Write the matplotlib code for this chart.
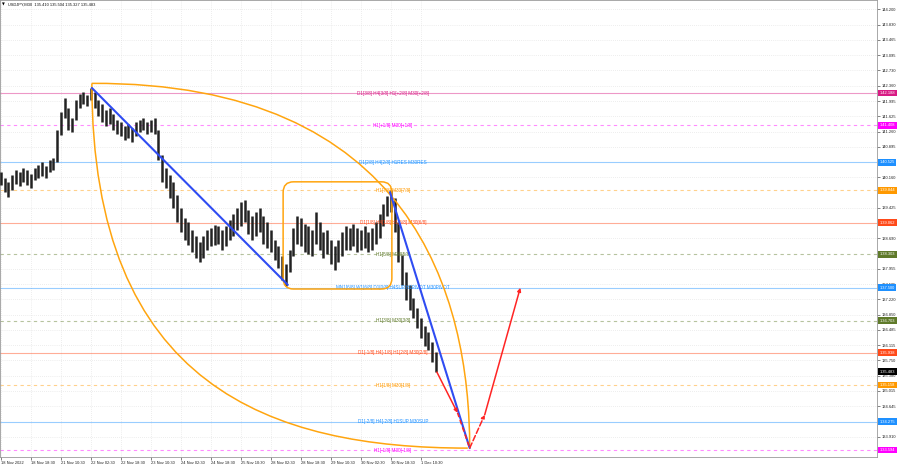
import matplotlib
matplotlib.use("Agg")
import numpy as np
import matplotlib.pyplot as plt
import matplotlib.transforms as mtransforms
from matplotlib.path import Path
from matplotlib.patches import PathPatch, FancyBboxPatch

plt.rcParams['font.family'] = ['Liberation Sans', 'DejaVu Sans']

# USDJPY M30, every entry = 4 bars (high / low)
highs = [140.29, 140.14, 140.05, 140.21, 140.33, 140.29, 140.38, 140.33, 140.24, 140.38,
         140.46, 140.53, 140.43, 140.58, 140.62, 141.30, 141.73, 142.07, 141.83, 141.59,
         142.02, 142.16, 142.21, 142.14, 142.31, 142.21, 142.02, 141.92, 141.78, 141.83,
         141.68, 141.54, 141.49, 141.39, 141.44, 141.35, 141.49, 141.54, 141.59, 141.49,
         141.54, 141.59, 141.30, 140.70, 140.38, 140.21, 140.05, 139.73, 139.42, 139.18,
         139.08, 138.89, 138.75, 138.60, 138.75, 138.89, 138.94, 139.01, 138.99, 138.89,
         138.99, 139.13, 139.28, 139.42, 139.56, 139.61, 139.37, 139.23, 139.32, 139.42,
         139.23, 139.08, 138.89, 138.65, 138.51, 138.26, 138.07, 138.41, 138.94, 139.23,
         139.18, 139.03, 138.99, 138.89, 139.32, 139.08, 138.84, 138.89, 138.65, 138.51,
         138.65, 138.84, 138.99, 138.94, 139.03, 138.94, 138.89, 138.99, 138.84, 138.94,
         139.08, 139.28, 139.52, 139.71, 139.85, 139.66, 139.08, 138.29, 137.88, 137.57,
         137.25, 137.01, 136.77, 136.58, 136.43, 136.19, 135.95]
lows = [139.97, 139.81, 139.68, 139.85, 140.00, 139.95, 140.05, 139.97, 139.90, 140.09,
        140.14, 140.19, 140.14, 140.29, 140.33, 140.53, 141.18, 141.59, 141.30, 141.25,
        141.54, 141.83, 141.92, 141.88, 142.02, 141.83, 141.63, 141.49, 141.39, 141.44,
        141.30, 141.20, 141.15, 141.06, 141.10, 141.01, 141.15, 141.25, 141.30, 141.20,
        141.25, 141.20, 140.58, 140.05, 139.90, 139.66, 139.42, 139.08, 138.84, 138.65,
        138.53, 138.36, 138.22, 138.12, 138.22, 138.41, 138.51, 138.53, 138.55, 138.41,
        138.51, 138.65, 138.75, 138.89, 138.99, 139.08, 138.79, 138.65, 138.75, 138.84,
        138.55, 138.46, 138.36, 138.17, 137.98, 137.69, 137.54, 137.88, 138.26, 138.55,
        138.51, 138.36, 138.31, 138.26, 138.55, 138.41, 138.22, 138.31, 138.07, 137.93,
        138.12, 138.26, 138.41, 138.41, 138.51, 138.36, 138.41, 138.46, 138.36, 138.41,
        138.55, 138.70, 138.99, 139.23, 139.32, 138.84, 138.12, 137.57, 137.21, 136.96,
        136.77, 136.53, 136.29, 136.10, 136.00, 135.71, 135.47]
bars_per_entry = 4

time_labels = ["18 Nov 2022", "18 Nov 18:30", "21 Nov 10:30", "22 Nov 02:30", "22 Nov 18:30",
               "23 Nov 10:30", "24 Nov 02:30", "24 Nov 18:30", "25 Nov 10:30", "28 Nov 02:30",
               "28 Nov 18:30", "29 Nov 10:30", "30 Nov 02:30", "30 Nov 18:30", "1 Dec 10:30"]
bars_per_label = 32

price_ticks = [144.200, 143.830, 143.465, 143.095, 142.730, 142.360, 141.995, 141.625, 141.260,
               140.895, 140.160, 139.425, 138.690, 137.955, 137.585, 137.220, 136.850, 136.485,
               136.115, 135.750, 135.380, 135.015, 134.645, 133.910]

level_prices = [142.188, 141.408, 140.525, 139.844, 139.062, 138.303,
                137.500, 136.703, 135.938, 135.158, 134.275, 133.594]
level_names = ["D1[3/8] H4[3/8] H1[+2/8] M30[+2/8]", "H1[+1/8] M30[+1/8]",
               "D1[2/8] H4[2/8] H1RES M30RES", "H1[7/8] M30[7/8]",
               "D1[1/8] H4[1/8] H1[6/8] M30[6/8]", "H1[5/8] M30[5/8]",
               "MN1[6/8] W1[6/8] D1[0/8] H4SUP H1PIVOT M30PIVOT", "H1[3/8] M30[3/8]",
               "D1[-1/8] H4[-1/8] H1[2/8] M30[2/8]", "H1[1/8] M30[1/8]",
               "D1[-2/8] H4[-2/8] H1SUP M30SUP", "H1[-1/8] M30[-1/8]"]
level_colors = ["#d81b84", "#ff00ff", "#1e90ff", "#ff9900", "#ff4a1a", "#5f7a2a",
                "#1e90ff", "#5f7a2a", "#ff4a1a", "#ff9900", "#1e90ff", "#ff00ff"]
level_dashed = [False, True, False, True, False, True, False, True, False, True, False, True]

last_price = 135.483
header = "USDJPY,M30  135.410 135.504 135.327 135.483"

# drawn objects (bar index, price)
trend_lines = [((98, 142.31), (307, 137.57)), ((416, 139.80), (501, 133.64))]
arc_top = [(98, 142.42), (440, 142.45), (501, 137.30), (501, 133.64)]
arc_bottom = [(98, 142.42), (98, 135.10), (290, 133.64), (499, 133.64)]
box_corners = [(302, 137.47), (418, 140.05)]
forecast = [(466, 135.47), (488, 134.49), (501, 133.64), (517, 134.44), (555, 137.50)]

fig = plt.figure(figsize=(9, 4.68), dpi=100)
ax = fig.add_axes([0, 11 / 468, 877 / 900, 457 / 468])
ax.set_xlim(0, 877 / 0.9375)
ax.set_ylim(133.426, 144.427)

# grid
tick_bars = [1 + bars_per_label * i for i in range(len(time_labels))]
for tb in tick_bars:
    ax.axvline(tb, color="#dcdcdc", lw=0.5, ls=(0, (1, 2)), zorder=0)
for pt in price_ticks:
    ax.axhline(pt, color="#dcdcdc", lw=0.5, ls=(0, (1, 2)), zorder=0)

# levels
for p, name, c, d in zip(level_prices, level_names, level_colors, level_dashed):
    ax.axhline(p, color=c, lw=0.8, alpha=0.45, ls=(0, (3, 3)) if d else "-", zorder=1)
    ax.text(419, p, name, color=c, fontsize=3.3, ha="center", va="center", zorder=4)

# candles
xb = np.arange(len(highs)) * bars_per_entry + 1
ax.vlines(xb, lows, highs, color="#222222", lw=1.8, zorder=3)

# trend lines
for (x0, y0), (x1, y1) in trend_lines:
    ax.plot([x0, x1], [y0, y1], color="#2f4cf2", lw=1.5, zorder=5, solid_capstyle="round")

# orange lens
for arc in (arc_top, arc_bottom):
    path = Path(arc, [Path.MOVETO, Path.CURVE4, Path.CURVE4, Path.CURVE4])
    ax.add_patch(PathPatch(path, fill=False, edgecolor="#ffa50f", lw=1.1, zorder=4))

(bx0, by0), (bx1, by1) = box_corners
ax.add_patch(FancyBboxPatch((bx0, by0), bx1 - bx0, by1 - by0,
                            boxstyle="round,pad=0,rounding_size=11",
                            mutation_aspect=0.0235, fill=False,
                            edgecolor="#ffa50f", lw=1.1, zorder=4))

# forecast arrows
red = "#ff2424"
ax.annotate("", xy=forecast[1], xytext=forecast[0],
            arrowprops=dict(arrowstyle="-|>", color=red, lw=1.1, mutation_scale=5,
                            shrinkA=0, shrinkB=0), zorder=6)
ax.plot([forecast[1][0], forecast[2][0]], [forecast[1][1], forecast[2][1]],
        color=red, lw=1.1, ls=(0, (3, 2)), zorder=6)
ax.annotate("", xy=forecast[3], xytext=forecast[2],
            arrowprops=dict(arrowstyle="-|>", color=red, lw=1.1, ls="--", mutation_scale=5,
                            shrinkA=0, shrinkB=0), zorder=6)
ax.annotate("", xy=forecast[4], xytext=forecast[3],
            arrowprops=dict(arrowstyle="-|>", color=red, lw=1.1, mutation_scale=5,
                            shrinkA=0, shrinkB=0), zorder=6)

# axes styling
ax.yaxis.tick_right()
ax.set_yticks(price_ticks)
ax.set_yticklabels(["%.3f" % t for t in price_ticks])
ax.set_xticks(tick_bars)
ax.set_xticklabels(time_labels, ha="left")
ax.tick_params(axis="y", labelsize=2.9, length=2, width=0.4, pad=1.5, colors="#222222")
ax.tick_params(axis="x", labelsize=2.9, length=2, width=0.4, pad=1.2, colors="#222222")
for s in ax.spines.values():
    s.set_color("#9a9a9a")
    s.set_linewidth(0.6)

# price boxes on the right axis
trans = mtransforms.blended_transform_factory(ax.transAxes, ax.transData)
for p, c in zip(level_prices + [last_price], level_colors + ["#000000"]):
    ax.text(1.003, p, "%.3f " % p, transform=trans, fontsize=2.9, color="white",
            ha="left", va="center", clip_on=False, zorder=7,
            bbox=dict(boxstyle="square,pad=0.35", fc=c, ec="none"))

fig.text(2 / 900, 1 - 5 / 468, "\u25bc", fontsize=2.6, va="center", family="DejaVu Sans")
fig.text(8 / 900, 1 - 5 / 468, header, fontsize=2.9, va="center", color="#111111")

fig.savefig("out.png", dpi=100, facecolor="white")
